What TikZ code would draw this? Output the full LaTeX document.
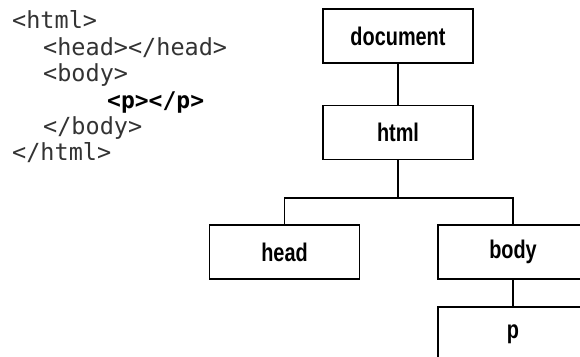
\documentclass[tikz,border=0pt]{standalone}
\usepackage{fontspec}
\newfontfamily\boxfont{Liberation Sans}[FakeStretch=0.78]
\newfontfamily\codefont{DejaVu Sans Mono}
\tikzset{
	domnode/.style={draw, line width=1.2pt, minimum width=150pt, minimum height=54pt, inner sep=0pt,
		font=\boxfont\bfseries\fontsize{25.5}{25.5}\selectfont},
	codeline/.style={anchor=base west, inner sep=0pt, text=black!80,
		font=\codefont\fontsize{23.5}{23.5}\selectfont},
	link/.style={line width=1.2pt}
}
\begin{document}
\begin{tikzpicture}[x=1pt,y=-1pt]
	\useasboundingbox (0,0) rectangle (580,356);
	
	\node[codeline] (c1) at (12,28) {<html>};
	\node[codeline] (c2) at (43,55) {<head></head>};
	\node[codeline] (c3) at (43,81) {<body>};
	\node[codeline, font=\codefont\bfseries\fontsize{23}{23}\selectfont, text=black] (c4) at (107,108) {<p></p>};
	\node[codeline] (c5) at (43,134) {</body>};
	\node[codeline] (c6) at (12,160) {</html>};
	
	\node[domnode] (document) at (398,36) {document};
	\node[domnode] (html) at (398,132.5) {html};
	\node[domnode] (head) at (284.5,252) {head};
	\node[domnode] (body) at (513,252) {body};
	\node[domnode] (p) at (513,334) {p};
	\coordinate (fork) at (398,198);
	
	\draw[link] (document) -- (html)
	(html) -- (fork)
	(fork) -| (head)
	(fork) -| (body)
	(body) -- (p);
	\end{tikzpicture}
\end{document}
